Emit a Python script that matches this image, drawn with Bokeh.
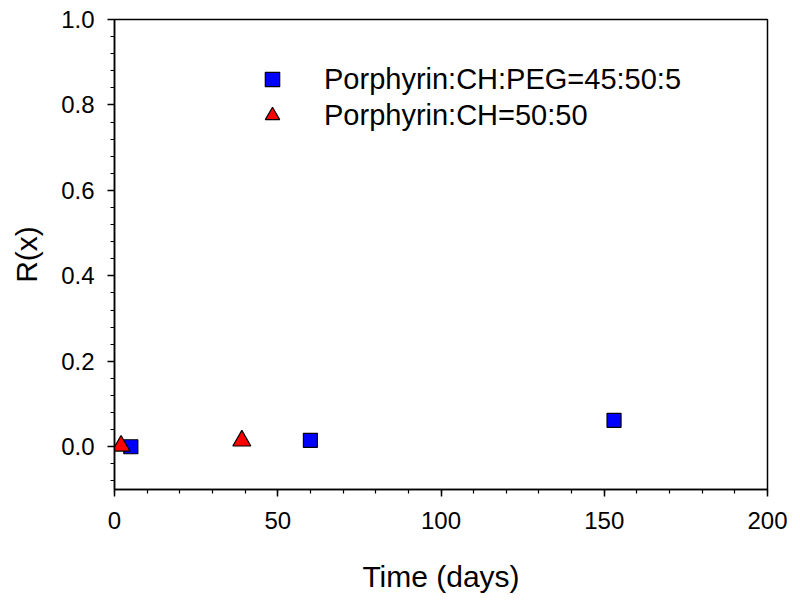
from bokeh.plotting import figure
from bokeh.models import Range1d, SingleIntervalTicker, Legend, LegendItem, PrintfTickFormatter
from bokeh.embed import file_html
from bokeh.resources import INLINE

# Data
peg_days = [5, 60, 153]
peg_r = [0.0, 0.015, 0.062]
ch_days = [2, 39]
ch_r = [0.002, 0.014]
label_peg = "Porphyrin:CH:PEG=45:50:5"
label_ch = "Porphyrin:CH=50:50"

FONT = "Liberation Sans"

p = figure(width=790, height=595, output_backend="svg", toolbar_location=None,
           x_range=Range1d(0, 200), y_range=Range1d(-0.1, 1.0),
           min_border_left=114, min_border_right=23, min_border_top=19, min_border_bottom=106)
p.grid.visible = False
p.background_fill_color = "white"
p.border_fill_color = "white"
p.outline_line_color = "black"
p.outline_line_width = 1.5

p.xaxis.ticker = SingleIntervalTicker(interval=50, num_minor_ticks=5)
p.yaxis.ticker = SingleIntervalTicker(interval=0.2, num_minor_ticks=5)
p.yaxis.formatter = PrintfTickFormatter(format="%.1f")

for ax in (p.xaxis[0], p.yaxis[0]):
    ax.axis_line_width = 1.5
    ax.axis_line_color = "black"
    ax.major_tick_line_color = "black"
    ax.minor_tick_line_color = "black"
    ax.major_tick_line_width = 1.5
    ax.minor_tick_line_width = 1.2
    ax.major_tick_in = 0
    ax.major_tick_out = 7
    ax.minor_tick_in = 0
    ax.minor_tick_out = 4
    ax.major_label_text_font = FONT
    ax.major_label_text_font_size = "24px"
    ax.major_label_text_color = "black"
    ax.axis_label_text_font = FONT
    ax.axis_label_text_font_size = "30px"
    ax.axis_label_text_font_style = "normal"
    ax.axis_label_text_color = "black"

p.xaxis.axis_label = "Time (days)"
p.yaxis.axis_label = "R(x)"
p.xaxis.major_label_standoff = 15
p.yaxis.major_label_standoff = 13
p.xaxis.axis_label_standoff = 28
p.yaxis.axis_label_standoff = 15

r_peg = p.scatter(peg_days, peg_r, marker="square", size=14, fill_color="#0000ff",
                  line_color="black", line_width=1.2)
r_ch = p.scatter(ch_days, ch_r, marker="triangle", size=18, fill_color="#ff0000",
                 line_color="black", line_width=1.2)

legend = Legend(items=[LegendItem(label=label_peg, renderers=[r_peg]),
                       LegendItem(label=label_ch, renderers=[r_ch])],
                location=(140, 356))
legend.glyph_width = 36
legend.glyph_height = 36
legend.label_standoff = 34
legend.spacing = 0
legend.padding = 0
legend.margin = 0
legend.border_line_color = None
legend.background_fill_alpha = 0
legend.label_text_font = FONT
legend.label_text_font_size = "29px"
legend.label_text_color = "black"
p.add_layout(legend, "center")

open("out.html", "w").write(file_html(p, INLINE))
